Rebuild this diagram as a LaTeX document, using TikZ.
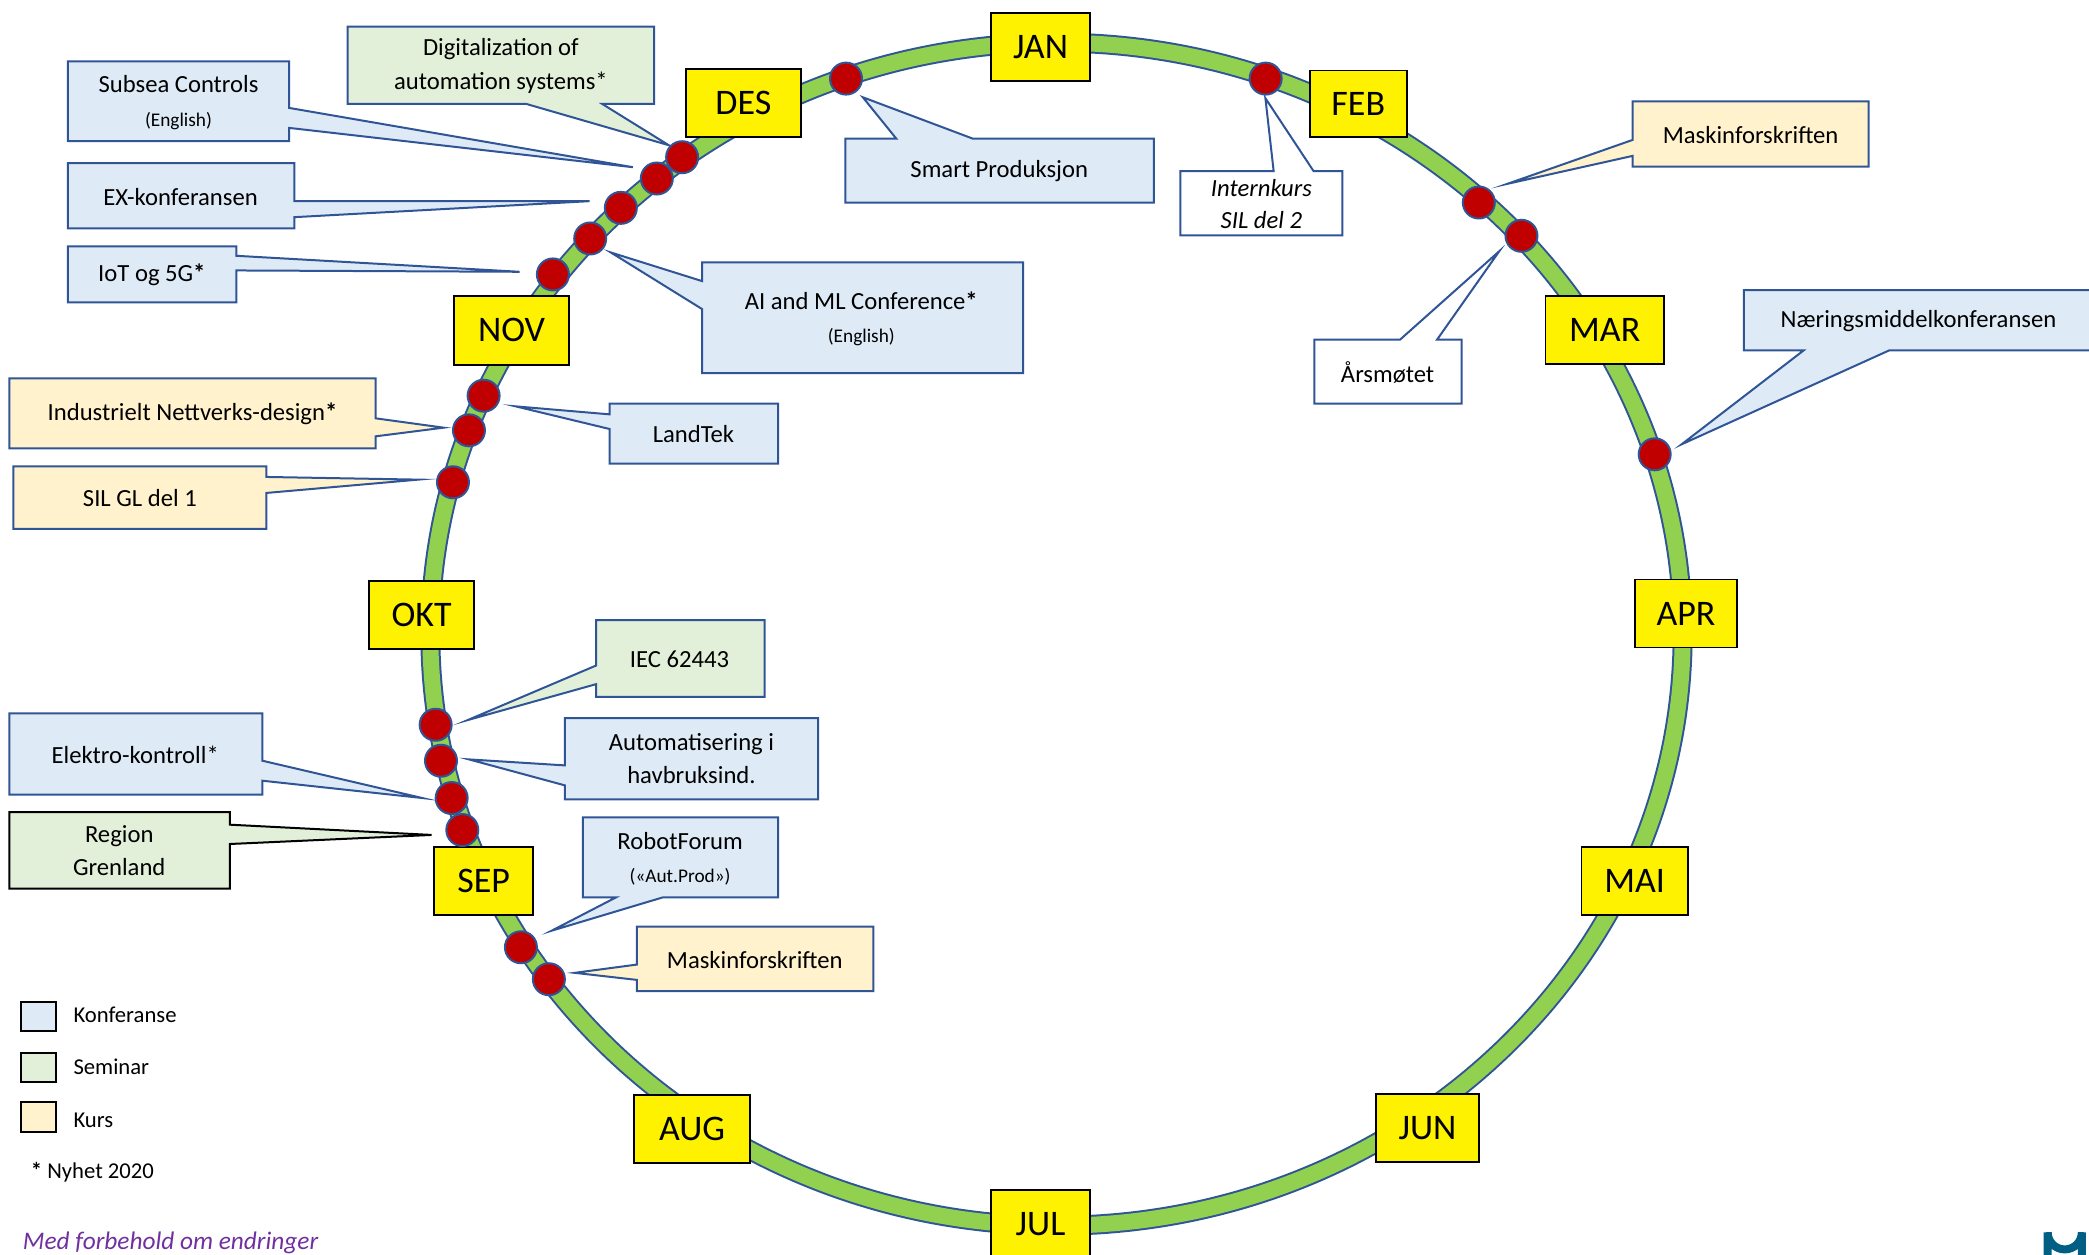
\documentclass[tikz,border=0pt]{standalone}
\usepackage{fontspec}
\setmainfont{Carlito}
\definecolor{ringgreen}{HTML}{92D050}
\definecolor{edgeblue}{HTML}{2F5597}
\definecolor{fillconf}{HTML}{DEEAF6}
\definecolor{fillsem}{HTML}{E2EFD9}
\definecolor{fillkurs}{HTML}{FFF2CC}
\definecolor{dotred}{HTML}{C00000}
\definecolor{notepurple}{HTML}{7030A0}
\definecolor{logoblue}{HTML}{005F83}
\newcommand{\subline}[1]{{\fontsize{14.5}{24}\selectfont #1}}
\tikzset{
  x=1pt,y=-1pt,
  callout/.style={draw=edgeblue,line width=1.5pt,line join=miter,miter limit=20},
  conf/.style={callout,fill=fillconf},
  sem/.style={callout,fill=fillsem},
  kurs/.style={callout,fill=fillkurs},
  plainbox/.style={callout,fill=white},
  semblack/.style={callout,draw=black,fill=fillsem},
  lbl/.style={font=\fontsize{18.5}{25}\selectfont,align=center,inner sep=0pt,text=black},
  monthbox/.style={draw=black,line width=1.3pt,fill=yellow,inner sep=0pt,font=\fontsize{27}{30}\selectfont},
  eventdot/.style={circle,draw=edgeblue,line width=1.5pt,fill=dotred,minimum size=24pt,inner sep=0pt},
  legendbox/.style={draw=black,line width=1.5pt,minimum width=26pt,minimum height=22pt,inner sep=0pt},
  legendtext/.style={font=\fontsize{17}{20}\selectfont,anchor=west,inner sep=0pt},
}
\begin{document}
\begin{tikzpicture}
\useasboundingbox (0,0) rectangle (1568,942);
% ring
\draw[edgeblue,line width=15pt] (793,476) ellipse [x radius=470,y radius=444];
\draw[ringgreen,line width=12pt] (793,476) ellipse [x radius=470,y radius=444];
% callouts
\draw[conf] (51,46)--(217,46)--(217,81)--(475,125.5)--(217,96)--(217,106)--(51,106)--cycle;
\node[lbl] (subsea) at (134,77) {Subsea Controls\\\subline{(English)}};
\draw[sem] (261,20)--(491,20)--(491,78)--(452,78)--(502,109)--(395,78)--(261,78)--cycle;
\node[lbl] (digital) at (376,49.5) {Digitalization of\\automation systems*};
\draw[conf] (51,122.5)--(221,122.5)--(221,151)--(442.5,151)--(221,163)--(221,171.5)--(51,171.5)--cycle;
\node[lbl] (ex) at (135.5,148) {EX-konferansen};
\draw[conf] (51,185)--(177.5,185)--(177.5,192)--(390,204)--(177.5,203)--(177.5,227)--(51,227)--cycle;
\node[lbl] (iot) at (114,206.5) {IoT og 5G\textbf{*}};
\draw[conf] (527,197)--(768,197)--(768,280)--(527,280)--(527,232)--(458.5,189.5)--(527,211)--cycle;
\node[lbl] (ai) at (646.5,239.5) {AI and ML Conference\textbf{*}\\\subline{(English)}};
\draw[conf] (634.5,104)--(672.7,104)--(647.6,73)--(730,104)--(866,104)--(866,152)--(634.5,152)--cycle;
\node[lbl] (smart) at (750,128.5) {Smart Produksjon};
\draw[kurs] (7,284)--(282,284)--(282,314)--(333,321)--(282,327.5)--(282,336.5)--(7,336.5)--cycle;
\node[lbl] (indnett) at (144.5,310.5) {Industrielt Nettverks-design\textbf{*}};
\draw[conf] (457.5,303)--(584,303)--(584,348)--(457.5,348)--(457.5,322)--(387,305)--(457.5,311)--cycle;
\node[lbl] (landtek) at (520.5,326) {LandTek};
\draw[kurs] (10,350)--(200,350)--(200,358)--(314,360)--(200,370)--(200,397)--(10,397)--cycle;
\node[lbl] (silgl) at (105,374) {SIL GL del 1};
\draw[sem] (447.5,465.5)--(574,465.5)--(574,523)--(447.5,523)--(447.5,513.5)--(351,540.5)--(447.5,499.5)--cycle;
\node[lbl] (iec) at (510,495) {IEC 62443};
\draw[conf] (424,539)--(614,539)--(614,600)--(424,600)--(424,589.5)--(352,570)--(424,574.5)--cycle;
\node[lbl] (havbruk) at (519,569.5) {Automatisering i\\havbruksind.};
\draw[conf] (7,535.5)--(197,535.5)--(197,571)--(317,599)--(197,586)--(197,596.5)--(7,596.5)--cycle;
\node[lbl] (elektro) at (101.5,566.5) {Elektro-kontroll*};
\draw[semblack] (7,609.5)--(172.5,609.5)--(172.5,619)--(324,626.7)--(172.5,633.5)--(172.5,667)--(7,667)--cycle;
\node[lbl] (region) at (89.5,638.5) {Region\\Grenland};
\draw[conf] (437.5,613.5)--(584,613.5)--(584,673.5)--(497.7,673.5)--(414,698.6)--(462.5,673.5)--(437.5,673.5)--cycle;
\node[lbl] (robot) at (510.5,644.5) {RobotForum\\\subline{(«Aut.Prod»)}};
\draw[kurs] (478,695.5)--(655.5,695.5)--(655.5,744)--(478,744)--(478,735.5)--(431.4,730.2)--(478,724)--cycle;
\node[lbl] (maskinb) at (566.5,720.5) {Maskinforskriften};
\draw[plainbox] (886,128.5)--(956,128.5)--(949.8,73.7)--(986,128.5)--(1007.5,128.5)--(1007.5,176.7)--(886,176.7)--cycle;
\node[lbl,font=\fontsize{18.5}{24}\selectfont\itshape] (intern) at (946.8,153) {Internkurs\\SIL del 2};
\draw[kurs] (1225.5,76)--(1402.5,76)--(1402.5,125)--(1225.5,125)--(1225.5,117)--(1131.4,138)--(1225.5,105)--cycle;
\node[lbl] (maskint) at (1314,101.5) {Maskinforskriften};
\draw[plainbox] (986.5,255)--(1050.8,255)--(1125.4,188.5)--(1078.6,255)--(1097,255)--(1097,303)--(986.5,303)--cycle;
\node[lbl] (arsmote) at (1041.5,279.5) {Årsmøtet};
\draw[conf] (1309,217.7)--(1575,217.7)--(1575,263)--(1418,263)--(1262.2,333.5)--(1353.8,263)--(1309,263)--cycle;
\node[lbl] (naering) at (1440,241) {Næringsmiddelkonferansen};
% months
\node[monthbox,minimum width=74pt,minimum height=51pt] (jan) at (781,35.5) {JAN};
\node[monthbox,minimum width=73pt,minimum height=50pt] (feb) at (1019.5,78) {FEB};
\node[monthbox,minimum width=89pt,minimum height=51pt] (mar) at (1204.5,247.5) {MAR};
\node[monthbox,minimum width=77pt,minimum height=51pt] (apr) at (1265.5,460.5) {APR};
\node[monthbox,minimum width=80pt,minimum height=51pt] (mai) at (1227,661.5) {MAI};
\node[monthbox,minimum width=77pt,minimum height=51pt] (jun) at (1071.5,846.5) {JUN};
\node[monthbox,minimum width=74pt,minimum height=52pt] (jul) at (781,919) {JUL};
\node[monthbox,minimum width=87pt,minimum height=51pt] (aug) at (519.5,847.5) {AUG};
\node[monthbox,minimum width=74pt,minimum height=51pt] (sep) at (363,661.5) {SEP};
\node[monthbox,minimum width=79pt,minimum height=51pt] (okt) at (316.5,461.5) {OKT};
\node[monthbox,minimum width=86pt,minimum height=52pt] (nov) at (384,248) {NOV};
\node[monthbox,minimum width=86pt,minimum height=51pt] (des) at (558,77.5) {DES};
% events
\foreach \n/\px/\py in {a/635/59,b/950/59,c/1110/152,d/1142/177,e/1242/341,f/512/118,g/493/134,h/466/156,i/443/179,j/415/206,k/363/297,l/352/323,m/340/362,n/327/544,o/331/571,p/339/599,q/347/623,r/391/711,s/412/735}
  \node[eventdot] (ev\n) at (\px,\py) {};
% legend
\node[legendbox,fill=fillconf] (lgconf) at (29,763) {};
\node[legendbox,fill=fillsem] (lgsem) at (29,801) {};
\node[legendbox,fill=fillkurs] (lgkurs) at (29,838.5) {};
\node[legendtext] (ltconf) at (55,762) {Konferanse};
\node[legendtext] (ltsem) at (55,801) {Seminar};
\node[legendtext] (ltkurs) at (55,841) {Kurs};
\node[legendtext] (ltnew) at (23,880) {\textbf{*} Nyhet 2020};
\node[anchor=west,inner sep=0pt,text=notepurple,font=\fontsize{19}{22}\selectfont\itshape] (note) at (17,933) {Med forbehold om endringer};
% logo
\draw[logoblue,line width=6pt] (1537,945)--(1537,925) arc[start angle=180,end angle=0,radius=12.8]--(1562.6,945);
\end{tikzpicture}
\end{document}
